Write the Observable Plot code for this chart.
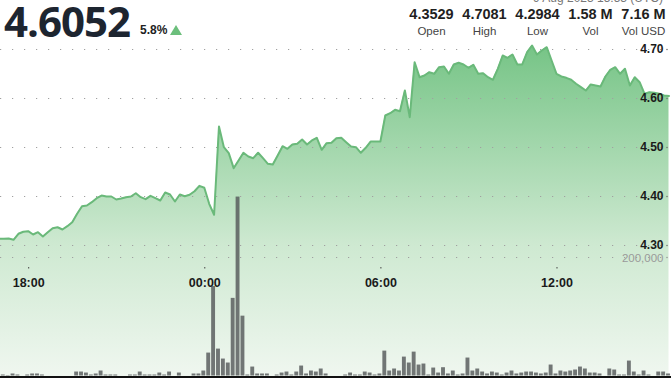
<!DOCTYPE html>
<html><head><meta charset="utf-8">
<script src="https://cdn.jsdelivr.net/npm/d3@7"></script>
<script src="https://cdn.jsdelivr.net/npm/@observablehq/plot@0.6"></script>
<style>
html,body{margin:0;padding:0;background:#fff;}
#wrap{position:relative;width:671px;height:378px;overflow:hidden;font-family:"Liberation Sans Narrow","Liberation Sans",sans-serif;}
#header{position:relative;height:40px;}
#chart{position:relative;height:338px;}
#chart svg{position:absolute;left:0;top:0;}
.big{position:absolute;left:4px;top:0;font:700 42px/42px "Open Sans",sans-serif;letter-spacing:-1px;color:#1d2530;}
.chg{position:absolute;left:140px;top:24px;font-weight:700;font-size:12px;line-height:12px;color:#222;}
.tri{position:absolute;left:170px;top:25px;width:0;height:0;border-left:6px solid transparent;border-right:6px solid transparent;border-bottom:10px solid #6cbf7c;}
.date{position:absolute;right:8px;top:-8px;font-size:12px;line-height:12px;color:#777;}
.stats{position:absolute;left:405px;top:7px;display:flex;}
.col{width:53px;text-align:center;}
.val{font-weight:700;font-size:14.5px;line-height:15px;color:#1f1f1f;}
.lab{font-size:11.5px;line-height:12px;color:#444;margin-top:3px;}
</style></head>
<body>
<div id="wrap">
  <div id="header"></div>
  <div id="chart"></div>
</div>
<script>
// ---- data ----
const lastPrice = "4.6052";
const changePct = "5.8%";
const dateText = "9 Aug 2023 15:53 (UTC)";
const statValues = ["4.3529", "4.7081", "4.2984", "1.58 M", "7.16 M"];
const statLabels = ["Open", "High", "Low", "Vol", "Vol USD"];

// price every 10 minutes from 8 Aug 16:59 UTC
const prices = [
  4.3137,4.3137,4.3143,4.3116,4.3239,4.3280,4.3292,4.3224,4.3271,4.3184,
  4.3271,4.3353,4.3373,4.3327,4.3394,4.3476,4.3647,4.3802,4.3816,4.3884,
  4.3965,4.4020,4.4000,4.4000,4.3939,4.3959,4.3986,4.4000,4.4067,4.3986,
  4.3945,4.4014,4.3965,4.3918,4.4082,4.4041,4.3898,4.4041,4.4006,4.4035,
  4.4108,4.4218,4.4178,4.3851,4.3627,4.5429,4.5006,4.4884,4.4578,4.4735,
  4.4892,4.4816,4.4782,4.4892,4.4782,4.4667,4.4653,4.4837,4.5027,4.4973,
  4.5061,4.5076,4.5163,4.5061,4.5143,4.5198,4.4953,4.5088,4.5096,4.5190,
  4.5198,4.5108,4.5020,4.5006,4.4892,4.4994,4.5122,4.5122,4.5122,4.5653,
  4.5700,4.5769,4.5741,4.6163,4.5618,4.6741,4.6435,4.6469,4.6537,4.6504,
  4.6639,4.6653,4.6504,4.6694,4.6729,4.6694,4.6627,4.6688,4.6504,4.6516,
  4.6435,4.6382,4.6606,4.6878,4.6831,4.6898,4.6694,4.6694,4.6945,4.7081,
  4.6898,4.6980,4.7047,4.6776,4.6504,4.6449,4.6422,4.6382,4.6300,4.6231,
  4.6163,4.6286,4.6265,4.6245,4.6449,4.6586,4.6639,4.6504,4.6606,4.6265,
  4.6435,4.6333,4.6096,4.6129,4.6116,4.6096,4.6061,4.6052
];
// volume per 10-minute bar from 8 Aug 17:03 UTC
const volumes = [
  1700,800,3400,1700,0,1700,3400,3400,1700,0,
  0,0,0,0,0,6700,6700,5000,1700,3400,
  8400,1700,1700,1700,0,0,1700,1700,6700,1700,
  1700,1700,5000,1700,6700,0,5000,0,0,3400,
  3400,8400,38700,151000,45400,28600,21900,131000,302000,101000,
  1700,15100,3400,3400,3400,0,1700,5000,6700,1700,
  6700,16800,3400,8400,6700,11800,3400,0,0,0,
  1700,5000,1700,1700,6700,5000,1700,3400,42000,8400,
  11800,8400,31900,21900,40300,18500,20200,1700,13400,5000,
  14000,3400,8400,1700,3400,30300,8400,11800,6700,3400,
  6700,5000,1700,5000,8400,3400,5000,6700,6700,5000,
  3400,5000,18500,3400,8400,6700,8400,10100,15100,11800,
  5000,5000,3400,0,11800,10100,1700,1700,25200,6700,
  1700,8400,1700,0,6700,6700,3400,1700
];
const yTicks = [4.30, 4.40, 4.50, 4.60, 4.70];
const volTicks = [200000];
const xTickLabels = ["18:00", "00:00", "06:00", "12:00"];
const xTickDay = ["2023-08-08", "2023-08-09", "2023-08-09", "2023-08-09"];

// ---- header ----
const header = document.getElementById("header");
header.innerHTML = `
  <div class="big">${lastPrice}</div>
  <div class="chg">${changePct}</div>
  <div class="tri"></div>
  <div class="date">${dateText}</div>
  <div class="stats">${statValues.map((v,i)=>`<div class="col"><div class="val">${v}</div><div class="lab">${statLabels[i]}</div></div>`).join("")}</div>`;

// ---- chart ----
const MIN = 60000;
const t0Line = Date.UTC(2023,7,8,16,59);
const t0Bar = Date.UTC(2023,7,8,17,3);
const xDomain = [new Date(Date.UTC(2023,7,8,17,2,21)), new Date(Date.UTC(2023,7,9,15,54,6))];
const priceRows = prices.map((p,i)=>({t:new Date(t0Line + i*10*MIN), p}));
const volRows = volumes.map((v,i)=>({t1:new Date(t0Bar + i*10*MIN), t2:new Date(t0Bar + (i+1)*10*MIN), v}));
const xTicks = xTickLabels.map((s,i)=>new Date(xTickDay[i] + "T" + s + ":00Z"));
const yMin = 4.03265;
const FONT = '"Liberation Sans Narrow","Liberation Sans",sans-serif';
const W = 671, H = 338;

const priceSvg = Plot.plot({
  width: W, height: H, marginTop: 9, marginBottom: 2, marginLeft: 0, marginRight: 0,
  x: {type: "utc", domain: xDomain, axis: null},
  y: {domain: [yMin, 4.70], axis: null},
  style: {background: "transparent", overflow: "visible", fontFamily: FONT},
  marks: [
    Plot.areaY(priceRows, {x: "t", y1: () => yMin, y2: "p", fill: "url(#areaGrad)"}),
    Plot.ruleY(yTicks, {stroke: "#a0a0a0", strokeWidth: 1.2, strokeDasharray: "1.2,10.8"}),
    Plot.lineY(priceRows, {x: "t", y: "p", stroke: "#6ab97a", strokeWidth: 2}),
    Plot.text(yTicks, {y: d => d, text: d => d.toFixed(2), frameAnchor: "right", textAnchor: "end", dx: -8, fontWeight: 700, fontSize: 12, fill: "#1a1a1a"}),
    Plot.dot(yTicks, {y: d => d, frameAnchor: "right", dx: -4.5, r: 0.8, fill: "#777"})
  ]
});
const defs = d3.select(priceSvg).insert("defs", ":first-child");
const grad = defs.append("linearGradient").attr("id", "areaGrad")
  .attr("gradientUnits", "userSpaceOnUse").attr("x1", 0).attr("x2", 0).attr("y1", 5).attr("y2", H);
grad.append("stop").attr("offset", "0%").attr("stop-color", "rgb(118,196,134)");
grad.append("stop").attr("offset", "60%").attr("stop-color", "rgb(206,233,209)");
grad.append("stop").attr("offset", "100%").attr("stop-color", "rgb(240,247,240)");

const volSvg = Plot.plot({
  width: W, height: H, marginTop: 217, marginBottom: 2.5, marginLeft: 0, marginRight: 0,
  x: {type: "utc", domain: xDomain, axis: null},
  y: {domain: [0, 200000], axis: null},
  style: {background: "transparent", overflow: "visible", fontFamily: FONT},
  marks: [
    Plot.ruleY(volTicks, {stroke: "#a0a0a0", strokeWidth: 1.2, strokeDasharray: "1.2,10.8"}),
    Plot.rectY(volRows, {x1: "t1", x2: "t2", y: "v", fill: "#55595a", fillOpacity: 0.82, insetLeft: 0.5, insetRight: 0.5}),
    Plot.ruleY([0], {stroke: "#111", strokeWidth: 3, dy: 1.5}),
    Plot.text(volTicks, {y: d => d, text: d => d3.format(",")(d), frameAnchor: "right", textAnchor: "end", dx: -8, dy: 1, fontSize: 11.5, fill: "#9a9a9a"}),
    Plot.dot(volTicks, {y: d => d, frameAnchor: "right", dx: -4.5, r: 0.8, fill: "#999"})
  ]
});

const axisSvg = Plot.plot({
  width: W, height: H, marginTop: 0, marginBottom: 111, marginLeft: 0, marginRight: 0,
  x: {type: "utc", domain: xDomain},
  style: {background: "transparent", overflow: "visible", fontFamily: FONT},
  marks: [
    Plot.axisX(xTicks, {tickFormat: d3.utcFormat("%H:%M"), tickSize: 1.5, tickPadding: 9, fontWeight: 700, fontSize: 12.5, fill: "#1a1a1a", stroke: "#444", label: null})
  ]
});

const chart = document.getElementById("chart");
chart.append(priceSvg, volSvg, axisSvg);
</script>
</body></html>
